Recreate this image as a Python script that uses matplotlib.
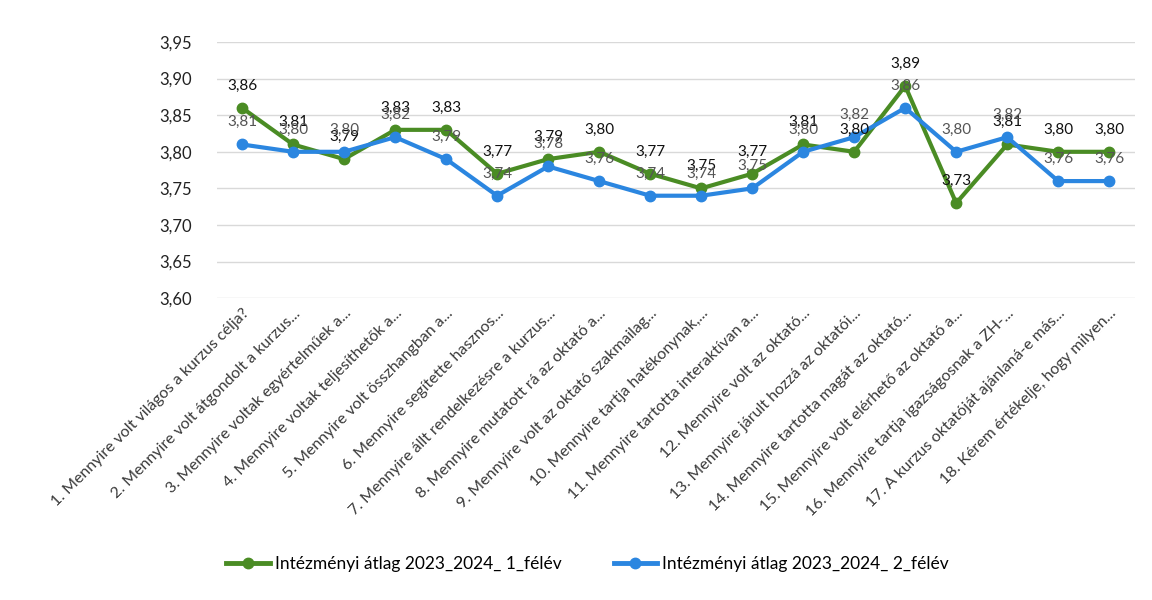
import numpy as np
import matplotlib.pyplot as plt
from matplotlib.ticker import FuncFormatter

categories = [
    "1. Mennyire volt világos a kurzus célja?",
    "2. Mennyire volt átgondolt a kurzus...",
    "3. Mennyire voltak egyértelműek a...",
    "4. Mennyire voltak teljesíthetők a...",
    "5. Mennyire volt összhangban a...",
    "6. Mennyire segítette hasznos...",
    "7. Mennyire állt rendelkezésre a kurzus...",
    "8. Mennyire mutatott rá az oktató a...",
    "9. Mennyire volt az oktató szakmailag...",
    "10. Mennyire tartja hatékonynak,...",
    "11. Mennyire tartotta interaktívan a...",
    "12. Mennyire volt az oktató...",
    "13. Mennyire járult hozzá az oktatói...",
    "14. Mennyire tartotta magát az oktató...",
    "15. Mennyire volt elérhető az oktató a...",
    "16. Mennyire tartja igazságosnak a ZH-...",
    "17. A kurzus oktatóját ajánlaná-e más...",
    "18. Kérem értékelje, hogy milyen...",
]
sem1 = [3.86, 3.81, 3.79, 3.83, 3.83, 3.77, 3.79, 3.80, 3.77,
        3.75, 3.77, 3.81, 3.80, 3.89, 3.73, 3.81, 3.80, 3.80]
sem2 = [3.81, 3.80, 3.80, 3.82, 3.79, 3.74, 3.78, 3.76, 3.74,
        3.74, 3.75, 3.80, 3.82, 3.86, 3.80, 3.82, 3.76, 3.76]
label1 = "Intézményi átlag 2023_2024_ 1_félév"
label2 = "Intézményi átlag 2023_2024_ 2_félév"

plt.rcParams['font.family'] = ['Lato', 'DejaVu Sans']

fig = plt.figure(figsize=(11.52, 6), dpi=100)
ax = fig.add_axes([0.188, 0.503, 0.797, 0.427])

x = np.arange(len(categories))
green = '#4a8c24'
blue = '#2b86e0'
ax.plot(x, sem1, color=green, lw=3, marker='o', ms=7.5, label=label1, zorder=3)
ax.plot(x, sem2, color=blue, lw=3, marker='o', ms=7.5, label=label2, zorder=3)

for xi, v in zip(x, sem1):
    ax.annotate(f"{v:.2f}".replace('.', ','), (xi, v), xytext=(0, 11),
                textcoords='offset points', ha='center', va='bottom',
                fontsize=11, color='#111111', zorder=4)
for xi, v in zip(x, sem2):
    ax.annotate(f"{v:.2f}".replace('.', ','), (xi, v), xytext=(0, 11),
                textcoords='offset points', ha='center', va='bottom',
                fontsize=11, color='#555555', zorder=4)

ax.set_ylim(3.60, 3.95)
ax.set_yticks(np.arange(3.60, 3.951, 0.05))
ax.yaxis.set_major_formatter(FuncFormatter(lambda v, p: f"{v:.2f}".replace('.', ',')))
ax.set_xlim(-0.5, len(categories) - 0.5)
ax.set_xticks(x)
ax.set_xticklabels(categories, rotation=45, ha='right', rotation_mode='anchor',
                   fontsize=11.5, color='#3a3a3a')
ax.grid(axis='y', color='#d9d9d9', lw=1)
ax.set_axisbelow(True)
for s in ax.spines.values():
    s.set_visible(False)
ax.tick_params(axis='both', length=0)
ax.tick_params(axis='y', labelsize=12, pad=18, colors='#222222')
ax.tick_params(axis='x', pad=6)

fig.legend(loc='lower center', bbox_to_anchor=(0.51, 0.02), ncol=2, frameon=False,
           fontsize=12.5, handlelength=2.5, columnspacing=3, handletextpad=0.3)
for line in fig.legends[0].get_lines():
    line.set_linewidth(3.5)

fig.savefig('out.png', dpi=100)
